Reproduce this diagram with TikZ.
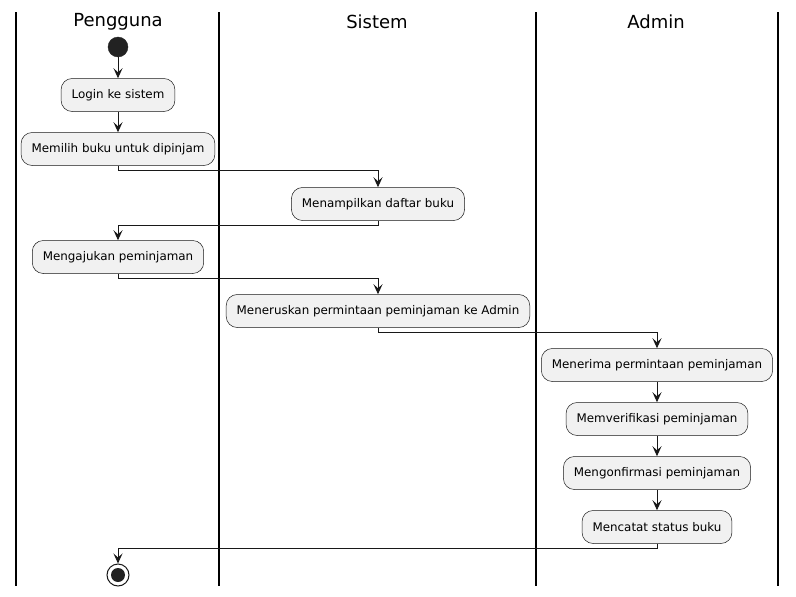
\documentclass[tikz,border=0pt]{standalone}
\usepackage{fontspec}
\setmainfont{DejaVu Sans}
\usetikzlibrary{arrows.meta}
\definecolor{boxfill}{HTML}{F1F1F1}
\definecolor{boxline}{HTML}{181818}
\definecolor{dot}{HTML}{222222}
\tikzset{
  act/.style={draw=boxline, line width=0.5pt, fill=boxfill, rounded corners=11pt,
    minimum height=33pt, inner xsep=10.5pt, inner ysep=0pt,
    font=\fontsize{11.9pt}{14pt}\selectfont, anchor=center},
  lanetitle/.style={font=\fontsize{18pt}{20pt}\selectfont, inner sep=0pt},
  lane/.style={line width=1.5pt, black},
  flow/.style={line width=1pt, boxline, -{Stealth[length=10pt,width=9pt,inset=4pt]}},
}
\begin{document}
\begin{tikzpicture}[x=1pt,y=-1pt]
\useasboundingbox (0,0) rectangle (796,597);
% lanes
\foreach \x in {16,219,536,778} \draw[lane] (\x,12) -- (\x,586);
\node[lanetitle] (t1) at (118,22) {Pengguna};
\node[lanetitle] (t2) at (377,22) {Sistem};
\node[lanetitle] (t3) at (656,22) {Admin};
% nodes
\node[circle, fill=dot, draw=dot, minimum size=20pt, inner sep=0pt] (start) at (118,47) {};
\node[act] (login) at (118,95) {Login ke sistem};
\node[act] (memilih) at (118,149) {Memilih buku untuk dipinjam};
\node[act] (tampil) at (378,204) {Menampilkan daftar buku};
\node[act] (aju) at (118,257) {Mengajukan peminjaman};
\node[act] (terus) at (378,311) {Meneruskan permintaan peminjaman ke Admin};
\node[act] (terima) at (657,365) {Menerima permintaan peminjaman};
\node[act] (verif) at (657,419) {Memverifikasi peminjaman};
\node[act] (konf) at (657,473) {Mengonfirmasi peminjaman};
\node[act] (catat) at (657,527) {Mencatat status buku};
\node[circle, draw=boxline, line width=1pt, fill=white, minimum size=22pt, inner sep=0pt] (end) at (118,575) {};
\fill[dot] (end.center) circle (7pt);
% flows
\draw[flow] (start) -- (login);
\draw[flow] (login) -- (memilih);
\draw[flow] (memilih.south) -- ++(0,5) -| (tampil.north);
\draw[flow] (tampil.south) -- ++(0,5) -| (aju.north);
\draw[flow] (aju.south) -- ++(0,5) -| (terus.north);
\draw[flow] (terus.south) -- ++(0,5) -| (terima.north);
\draw[flow] (terima) -- (verif);
\draw[flow] (verif) -- (konf);
\draw[flow] (konf) -- (catat);
\draw[flow] (catat.south) -- ++(0,5) -| (end.north);
\end{tikzpicture}
\end{document}
